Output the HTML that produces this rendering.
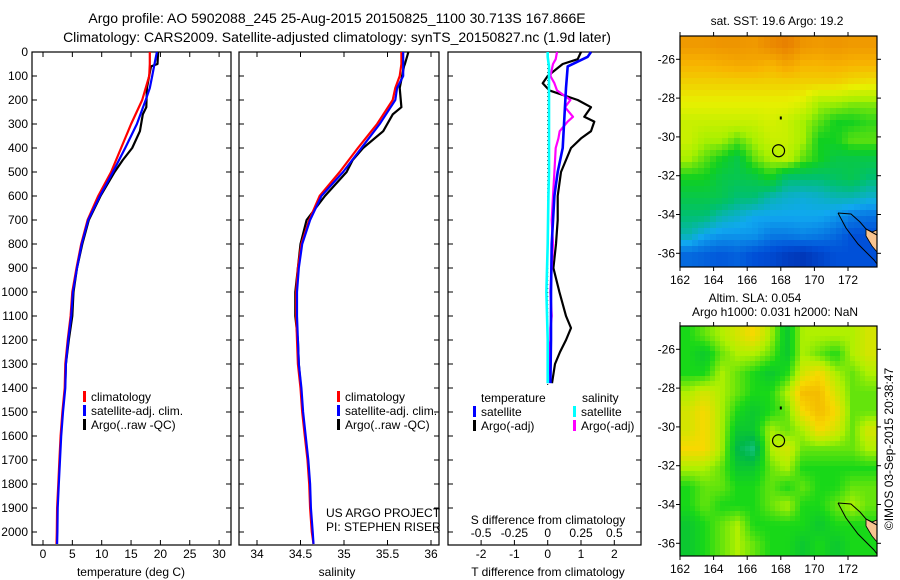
<!DOCTYPE html>
<html><head><meta charset="utf-8"><style>
html,body{margin:0;padding:0;background:#fff;width:900px;height:580px;overflow:hidden}
svg{display:block;font-family:"Liberation Sans",sans-serif}
</style></head><body>
<svg id="fig" width="900" height="580" viewBox="0 0 900 580" xmlns="http://www.w3.org/2000/svg">
<text x="337" y="23" font-size="14" text-anchor="middle">Argo profile: AO 5902088_245 25-Aug-2015 20150825_1100 30.713S 167.866E</text>
<text x="337" y="42" font-size="14" text-anchor="middle">Climatology: CARS2009. Satellite-adjusted climatology: synTS_20150827.nc (1.9d later)</text>
<g id="g"></g>
</svg>
<script>
// ---------- profile data ----------
const depthsT=[0,50,100,150,200,300,400,500,600,700,800,900,1000,1100,1200,1300,1400,1500,1600,1700,1800,1900,2000,2050];
const climT=[18.2,18.2,18.1,17.5,16.9,15.0,13.3,11.6,9.4,7.6,6.5,5.7,5.0,4.7,4.2,3.8,3.7,3.3,3.0,2.8,2.6,2.4,2.35,2.3];
const satT=[19.4,19.0,18.6,18.2,17.5,16.0,14.0,11.9,9.7,7.7,6.6,5.8,5.1,4.8,4.3,3.9,3.8,3.4,3.1,2.9,2.7,2.5,2.45,2.4];
const argoDepths=[0,50,60,150,230,260,330,400,450,500,600,700,800,900,1000,1100,1200,1300,1380];
const argoT=[19.6,19.5,18.4,17.7,17.6,17.0,16.5,15.2,13.6,12.2,9.8,7.8,6.7,5.8,5.2,5.0,4.4,3.9,3.8];
const climS=[35.66,35.66,35.64,35.59,35.56,35.38,35.16,34.95,34.72,34.60,34.51,34.47,34.45,34.45,34.46,34.47,34.50,34.52,34.55,34.58,34.60,34.61,34.63,34.65];
const satS=[35.68,35.68,35.68,35.61,35.59,35.41,35.20,34.99,34.74,34.61,34.52,34.48,34.46,34.46,34.47,34.48,34.51,34.53,34.56,34.59,34.61,34.62,34.64,34.65];
const argoS=[35.74,35.70,35.69,35.64,35.66,35.56,35.45,35.22,35.10,35.03,34.78,34.57,34.50,34.47,34.44,34.44,34.47,34.48,34.50];
// difference panel
const diffDepths=[0,20,60,150,400,500,600,800,1000,1200,1380];
const satTdiff=[1.3,1.2,0.6,0.55,0.45,0.3,0.2,0.12,0.1,0.1,0.08];
const satSdiff=[0.0,0.0,0.01,0.01,0.01,0.01,0.005,0.0,-0.01,0.0,0.0];
const argoDiffDepths=[0,30,50,100,130,160,200,230,270,290,330,360,400,500,600,700,800,900,1000,1100,1150,1200,1250,1300,1380];
const argoTdiff=[1.0,0.9,0.45,0.0,-0.15,0.05,0.9,1.3,1.1,1.4,1.3,1.0,0.7,0.4,0.3,0.3,0.25,0.17,0.35,0.55,0.7,0.55,0.37,0.22,0.13];
const argoSdiff=[0.07,0.06,0.04,0.02,0.05,0.07,0.17,0.13,0.19,0.15,0.09,0.08,0.06,0.05,0.04,0.03,0.04,0.03,0.02,0.03,0.02,0.02,0.01,0.01,0.0];
const depthTicks=[0,100,200,300,400,500,600,700,800,900,1000,1100,1200,1300,1400,1500,1600,1700,1800,1900,2000];
const tempTicks=[0,5,10,15,20,25,30];
const salTicks=[34,34.5,35,35.5,36];
const tdTicks=[-2,-1,0,1,2];
const sdTicks=[-0.5,-0.25,0,0.25,0.5];
const sdTickLabels=["-0.5","-0.25","0","0.25","0.5"];
// map data (rows lat -25..-36.7, cols lon 162..173.7)
const sstGrid=[
[7.5,7.5,7.6,7.6,7.5,7.8,8,7.6,7.5,7.6,7.5,7.5],
[7,7,7.1,7.2,7.2,7,7.3,7,7,7.1,7,7],
[6.5,6.5,6.5,6.5,6.5,6.5,6.5,6.5,6.5,6.5,6.3,6.2],
[6,6,6,6,6,6,6,5.8,5,5,4.8,4.8],
[5.5,5.5,5.5,5.5,5.5,5.7,5.5,5,4.5,4,4,4.2],
[5.5,5,5,4.5,5,5.5,5.5,5,4,4,4.5,4.5],
[5,4.5,4,3.5,4.5,5,5.3,4.5,4,3.5,3.5,3.5],
[4,4,3.5,3.4,3.5,4,3,3,3,3.2,3.4,3],
[3.5,3.5,3.4,3,3,2.5,2.3,2.2,2.3,2.5,2.5,2.3],
[3,3,2.5,2.3,2,2,2,2,2,1.8,1.5,1.4],
[2.5,2,1.8,1.8,1.8,1.5,1.5,1.6,1.5,1.3,1,1],
[1.3,1.2,1.1,1.2,1,0.9,0.7,0.6,0.8,1,1,1]];
const slaGrid=[
[2,2.5,3,3.5,4,3,1.5,3,3,3,3,3.5],
[2,1.5,2.5,3,3,2.5,1.5,3,2.5,2,3,3.5],
[2,2,3,2.5,2,1.5,2,3.5,4,3,2.5,3],
[3,3.5,3,2.5,2,2,3,4.5,4.5,3.5,2.5,2.5],
[3.5,4,3,2,1.5,2,2.5,4,4.5,4,2.5,2.5],
[3.5,4,3,1.5,1.5,3,2.5,3,4,3.5,2.5,3.5],
[4,4,3,1,0.4,3,3.5,2.5,2.5,2.5,2.5,3],
[3,3,2.5,1.5,1.5,2.5,3,2,2,2,2,2],
[2,2.5,2.5,2,2,2.5,2,2.5,2,2,2.5,2.5],
[2,2.5,2,2,2,2.5,3,2,2,2.5,3,2.5],
[1.5,2,2.5,3,2,2,2,2,1.5,2,2,2],
[1.5,2,2.5,3,2.5,2,2,1.5,2,1.5,2,2]];
const lonTicks=[162,164,166,168,170,172];
const latTicks=[-26,-28,-30,-32,-34,-36];
const argoLon=167.866, argoLat=-30.713;

const NS="http://www.w3.org/2000/svg";
const G=document.getElementById('g');
function el(t,a,p){const e=document.createElementNS(NS,t);for(const k in a)e.setAttribute(k,a[k]);(p||G).appendChild(e);return e;}
function txt(x,y,s,anchor,size,p){const e=el('text',{x:x,y:y,'font-size':size||12,'text-anchor':anchor||'start'},p);e.textContent=s;return e;}

const Y0=52,YB=545;
const yD=d=>Y0+d*0.24;
const xT=t=>43+t*5.87;
const xS=s=>257+(s-34)*87;
const xTD=t=>547.7+t*33.3;
const xSD=s=>547.7+s*133.3;

function frame(x1,x2,name){
  const r=el('rect',{x:x1,y:Y0,width:x2-x1,height:YB-Y0,fill:'none',stroke:'#000','stroke-width':1.2});
  
  
  depthTicks.forEach(d=>{el('line',{x1:x1,x2:x1+5,y1:yD(d),y2:yD(d),stroke:'#000'});el('line',{x1:x2,x2:x2-5,y1:yD(d),y2:yD(d),stroke:'#000'});});
}
function xticks(vals,fx,labels,ly,top){
  vals.forEach((v,i)=>{const x=fx(v);
    el('line',{x1:x,x2:x,y1:YB,y2:YB-5,stroke:'#000'});
    if(top)el('line',{x1:x,x2:x,y1:Y0,y2:Y0+5,stroke:'#000'});
    const t=txt(x,ly,labels?labels[i]:String(v),'middle',12);
    
    
  });
}
function line(depths,vals,fx,color,name,w){
  const pts=depths.map((d,i)=>fx(vals[i]).toFixed(1)+','+yD(d).toFixed(1)).join(' ');
  const p=el('polyline',{points:pts,fill:'none',stroke:color,'stroke-width':w||2.2,'stroke-linejoin':'round'});
  
  
}
function legend(x,y,items){
  items.forEach((it,i)=>{const yy=y+i*14;
    el('rect',{x:x,y:yy-10,width:3,height:11,fill:it[0]});
    const t=txt(x+8,yy,it[1],'start',12);
    
    
  });
}

// panel 1
frame(32,231,'temperature-panel');
depthTicks.forEach(d=>{const t=txt(28,yD(d)+4,String(d),'end',12);
  
  });
xticks(tempTicks,xT,null,558,true);
let t1=txt(131,576,'temperature (deg C)','middle',12);


line(argoDepths,argoT,xT,'#000','argo-temperature-line');
line(depthsT,climT,xT,'#f00','climatology-temperature-line');
line(depthsT,satT,xT,'#00f','satellite-temperature-line');
legend(83,401,[['#f00','climatology'],['#00f','satellite-adj. clim.'],['#000','Argo(..raw -QC)']]);

// panel 2
frame(239,439,'salinity-panel');
xticks(salTicks,xS,null,558,true);
let t2=txt(337,576,'salinity','middle',12);


line(argoDepths,argoS,xS,'#000','argo-salinity-line');
line(depthsT,climS,xS,'#f00','climatology-salinity-line');
line(depthsT,satS,xS,'#00f','satellite-salinity-line');
legend(337,401,[['#f00','climatology'],['#00f','satellite-adj. clim.'],['#000','Argo(..raw -QC)']]);
txt(326,517,'US ARGO PROJECT','start',12);
txt(326,531,'PI: STEPHEN RISER','start',12);

// panel 3
frame(448,641,'difference-panel');
xticks(tdTicks,xTD,null,558,false);
sdTicks.forEach((v,i)=>{const t=txt(xSD(v),537,sdTickLabels[i],'middle',12);
  
  });
txt(548,524,'S difference from climatology','middle',12);
let t3=txt(548,576,'T difference from climatology','middle',12);


el('line',{x1:547.7,x2:547.7,y1:Y0,y2:yD(1400),stroke:'#000','stroke-dasharray':'1 3'});
line(argoDiffDepths,argoTdiff,xTD,'#000','argo-tdiff-line');
line(argoDiffDepths,argoSdiff,xSD,'#f0f','argo-sdiff-line');
line(diffDepths,satTdiff,xTD,'#00f','satellite-tdiff-line',2.6);
line(diffDepths,satSdiff,xSD,'#0ff','satellite-sdiff-line',2.6);
txt(481,402,'temperature','start',12);
txt(582,402,'salinity','start',12);
legend(473,416,[['#00f','satellite'],['#000','Argo(-adj)']]);
legend(573,416,[['#0ff','satellite'],['#f0f','Argo(-adj)']]);

// ---------- maps ----------
const sstStops=['#00148c','#0050d8','#10a8f0','#00c070','#10d020','#a8f000','#e8f000','#f8b400','#e88000'];
const slaStops=['#20c8a0','#00b848','#18d818','#b0f000','#f8d800','#f0a000'];
function hex(c){return [1,3,5].map(i=>parseInt(c.substr(i,2),16));}
function cmap(v,stops){v=Math.max(0,Math.min(stops.length-1,v));const i=Math.min(stops.length-2,Math.floor(v)),f=v-i;
  const a=hex(stops[i]),b=hex(stops[i+1]);return 'rgb('+a.map((x,k)=>Math.round(x+(b[k]-x)*f)).join(',')+')';}
function bil(grid,r,c){const R=grid.length,C=grid[0].length;r=Math.max(0,Math.min(R-1,r));c=Math.max(0,Math.min(C-1,c));
  const r0=Math.floor(r),c0=Math.floor(c),r1=Math.min(R-1,r0+1),c1=Math.min(C-1,c0+1),fr=r-r0,fc=c-c0;
  return grid[r0][c0]*(1-fr)*(1-fc)+grid[r0][c1]*(1-fr)*fc+grid[r1][c0]*fr*(1-fc)+grid[r1][c1]*fr*fc;}
function drawMap(yTop,yBot,lat26y,grid,stops,cell,name){
  const x0=680,x1=877;
  const xL=l=>680+(l-162)*16.8;
  const yL=l=>lat26y+(-26-l)*19.4;
  const g=el('g',{});
  
  
  for(let y=yTop;y<yBot;y+=cell)for(let x=x0;x<x1;x+=cell){
    const lon=162+(x+cell/2-680)/16.8, lat=-26-(y+cell/2-lat26y)/19.4;
    const c=(lon-162.5)/0.975, r=(-25.3-lat)/0.975;
    el('rect',{x:x,y:y,width:Math.min(cell,x1-x)+0.3,height:Math.min(cell,yBot-y)+0.3,fill:cmap(bil(grid,r,c),stops)},g);
  }
  // coast
  const o=yTop-36;
  el('polygon',{points:`866,${229+o} 872,${232+o} 877,${230+o} 877,${252+o} 872,${246+o} 866,${236+o}`,fill:'#f8c490',stroke:'#000','stroke-width':0.8},g);
  el('polyline',{points:`838,${213+o} 851,${214+o} 860,${222+o} 866,${229+o} 877,${235+o}`,fill:'none',stroke:'#000','stroke-width':1},g);
  el('polyline',{points:`838,${213+o} 846,${228+o} 858,${244+o} 874,${260+o} 877,${264+o}`,fill:'none',stroke:'#000','stroke-width':1},g);
  el('rect',{x:x0,y:yTop,width:x1-x0,height:yBot-yTop,fill:'none',stroke:'#000','stroke-width':1.2});
  lonTicks.forEach(l=>{const x=xL(l);el('line',{x1:x,x2:x,y1:yBot,y2:yBot+4,stroke:'#000'});el('line',{x1:x,x2:x,y1:yTop,y2:yTop-4,stroke:'#000'});
    const t=txt(x,yBot+17,String(l),'middle',12);
    
    });
  latTicks.forEach(l=>{const y=yL(l);el('line',{x1:x0,x2:x0-4,y1:y,y2:y,stroke:'#000'});el('line',{x1:x1,x2:x1+4,y1:y,y2:y,stroke:'#000'});
    const t=txt(675,y+4,String(l),'end',12);
    
    });
  const c=el('circle',{cx:xL(argoLon),cy:yL(argoLat),r:6,fill:'none',stroke:'#000','stroke-width':1.2},g);
  
  
  el('rect',{x:xL(168)-1,y:yL(-29.05)-2,width:2,height:3,fill:'#000'},g);
}
drawMap(36,267,59.3,sstGrid,sstStops,6,'sst-map');
drawMap(326,556,349.3,slaGrid,slaStops,5,'sla-map');
txt(777,25,'sat. SST: 19.6 Argo: 19.2','middle',12);
txt(755,302,'Altim. SLA: 0.054','middle',12);
txt(775,316,'Argo h1000: 0.031 h2000: NaN','middle',12);
const cp=txt(0,0,'©IMOS 03-Sep-2015 20:38:47','middle',12);
cp.setAttribute('transform','translate(893,449) rotate(-90)');


</script>
</body></html>
